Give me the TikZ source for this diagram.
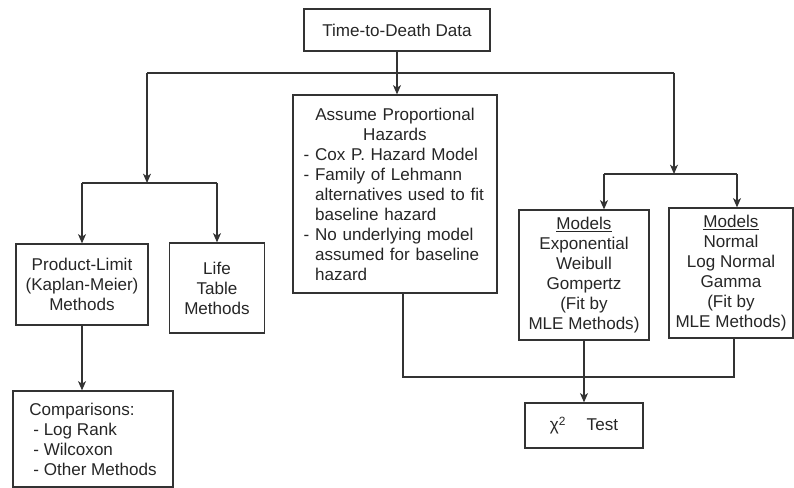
\documentclass[tikz,border=0pt]{standalone}
\usepackage{fontspec}
\setmainfont{Liberation Sans}
\usetikzlibrary{arrows.meta}
\begin{document}
\begin{tikzpicture}[x=0.75pt,y=-0.75pt,
  box/.style={draw=black!80,line width=0.9pt,align=center,inner sep=0pt,
    font=\fontsize{12.8}{15}\selectfont,text=black!85},
  line/.style={draw=black!80,line width=0.9pt},
  arr/.style={line,-{Stealth[length=7pt,width=6pt,inset=2pt]}}]
\useasboundingbox (0,0) rectangle (794,488);
\node[box,minimum width=139.5pt,minimum height=31.5pt] (data) at (397,30) {Time-to-Death Data};
\node[box,minimum width=153pt,minimum height=148.5pt,text width=137pt,align=left] (assume) at (395,194)
  {{\centering Assume Proportional\\Hazards\par}
   - Cox P. Hazard Model\\
   - Family of Lehmann\\
   \phantom{- }alternatives used to fit\\
   \phantom{- }baseline hazard\\
   - No underlying model\\
   \phantom{- }assumed for baseline\\
   \phantom{- }hazard};
\node[box,minimum width=99pt,minimum height=60.75pt] (prod) at (82,284.5) {Product-Limit\\(Kaplan-Meier)\\Methods};
\node[box,minimum width=71.25pt,minimum height=67.5pt] (life) at (217,288) {Life\\Table\\Methods};
\node[box,minimum width=120pt,minimum height=72pt,align=left] (comp) at (93,439)
  {Comparisons:\\\hspace*{3pt}- Log Rank\\\hspace*{3pt}- Wilcoxon\\\hspace*{3pt}- Other Methods};
\node[box,minimum width=97.5pt,minimum height=97.5pt] (mod1) at (584,275)
  {\underline{Models}\\Exponential\\Weibull\\Gompertz\\(Fit by\\MLE Methods)};
\node[box,minimum width=93pt,minimum height=97.5pt] (mod2) at (731,273)
  {\underline{Models}\\Normal\\Log Normal\\Gamma\\(Fit by\\MLE Methods)};
\node[box,minimum width=88.5pt,minimum height=33.75pt] (chi) at (584,425.5) {χ\textsuperscript{2}\hspace{1.2em}Test};
\coordinate (lt) at (147,73);
\coordinate (rt) at (674,73);
\coordinate (lb) at (147,183);
\coordinate (rb) at (674,174);
\coordinate (m1) at (604,174);
\coordinate (m2) at (737,174);
\coordinate (bl) at (403,377);
\coordinate (br) at (734,377);
\draw[arr] (data.south) -- (data.south |- assume.north);
\draw[line] (lt) -- (rt);
\draw[arr] (lt) -- (lb);
\draw[arr] (rt) -- (rb);
\draw[line] (prod.north |- lb) -- (life.north |- lb);
\draw[arr] (prod.north |- lb) -- (prod.north);
\draw[arr] (life.north |- lb) -- (life.north);
\draw[arr] (prod.south) -- (prod.south |- comp.north);
\draw[line] (m1) -- (m2);
\draw[arr] (m1) -- (m1 |- mod1.north);
\draw[arr] (m2) -- (m2 |- mod2.north);
\draw[line] (bl |- assume.south) -- (bl) -- (br) -- (br |- mod2.south);
\draw[arr] (mod1.south) -- (chi.north);
\end{tikzpicture}
\end{document}
